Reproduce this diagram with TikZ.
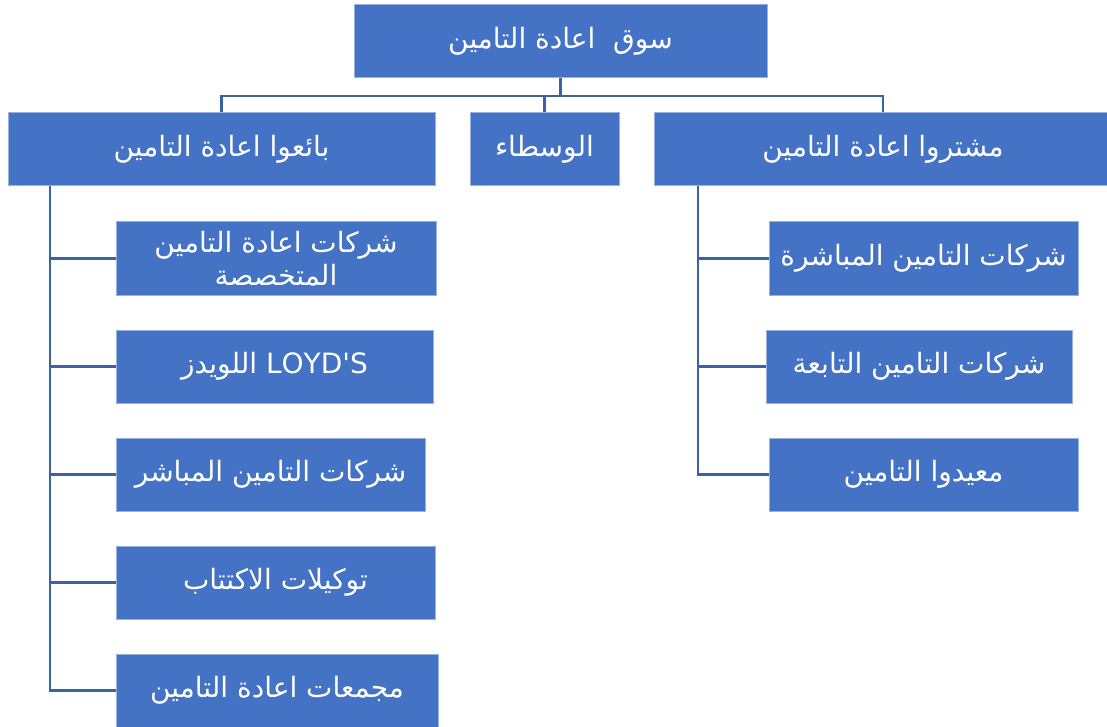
\documentclass[tikz,border=0pt]{standalone}
\usepackage{fontspec}
\newfontfamily\arabicfont[Script=Arabic]{DejaVu Sans}
\TeXXeTstate=1
\definecolor{boxblue}{RGB}{68,114,196}
\definecolor{boxedge}{RGB}{150,178,225}
\definecolor{linkblue}{RGB}{60,98,165}
\begin{document}
\begin{tikzpicture}[x=1pt,y=-1pt,
  box/.style={draw=boxedge,line width=1pt,fill=boxblue,text=white,inner sep=0pt,
    font=\arabicfont\fontsize{28}{33}\selectfont,align=center},
  conn/.style={draw=linkblue,line width=2.6pt}]
\useasboundingbox (0,0) rectangle (1107,727);
% top
\node[box,minimum width=413pt,minimum height=73pt] (top) at (560.5,41.5) {\beginR سوق \ اعادة التامين\endR};
% level 2
\node[box,minimum width=427pt,minimum height=73pt] (sellers) at (221.5,149.5) {\beginR بائعوا اعادة التامين\endR};
\node[box,minimum width=149pt,minimum height=73pt] (brokers) at (544.5,149.5) {\beginR الوسطاء\endR};
\node[box,minimum width=458pt,minimum height=73pt] (buyers) at (883,149.5) {\beginR مشتروا اعادة التامين\endR};
% sellers children
\node[box,minimum width=320pt,minimum height=73pt] (s1) at (276,258.5) {\beginR شركات اعادة التامين\endR\\\beginR المتخصصة\endR};
\node[box,minimum width=317pt,minimum height=73pt] (s2) at (274.5,366.5) {\beginR\beginL LOYD'S\endL{} اللويدز\endR};
\node[box,minimum width=309pt,minimum height=73pt] (s3) at (270.5,474.5) {\beginR شركات التامين المباشر\endR};
\node[box,minimum width=319pt,minimum height=73pt] (s4) at (275.5,582.5) {\beginR توكيلات الاكتتاب\endR};
\node[box,minimum width=322pt,minimum height=73pt] (s5) at (277,690.5) {\beginR مجمعات اعادة التامين\endR};
% buyers children
\node[box,minimum width=309pt,minimum height=73pt] (b1) at (923.5,258.5) {\beginR شركات التامين المباشرة\endR};
\node[box,minimum width=306pt,minimum height=73pt] (b2) at (919,366.5) {\beginR شركات التامين التابعة\endR};
\node[box,minimum width=309pt,minimum height=73pt] (b3) at (923.5,474.5) {\beginR معيدوا التامين\endR};
% connectors
\coordinate (j) at (560.5,96);
\draw[conn] (top.south) -- (j);
\draw[conn] (sellers.north) -- (sellers.north |- j) -- (buyers.north |- j) -- (buyers.north);
\draw[conn] (brokers.north) -- (brokers.north |- j);
\coordinate (sb) at (50,186);
\draw[conn] (sb) |- (s5.west);
\draw[conn] (sb |- s1.west) -- (s1.west);
\draw[conn] (sb |- s2.west) -- (s2.west);
\draw[conn] (sb |- s3.west) -- (s3.west);
\draw[conn] (sb |- s4.west) -- (s4.west);
\coordinate (bb) at (698,186);
\draw[conn] (bb) |- (b3.west);
\draw[conn] (bb |- b1.west) -- (b1.west);
\draw[conn] (bb |- b2.west) -- (b2.west);
\end{tikzpicture}
\end{document}
